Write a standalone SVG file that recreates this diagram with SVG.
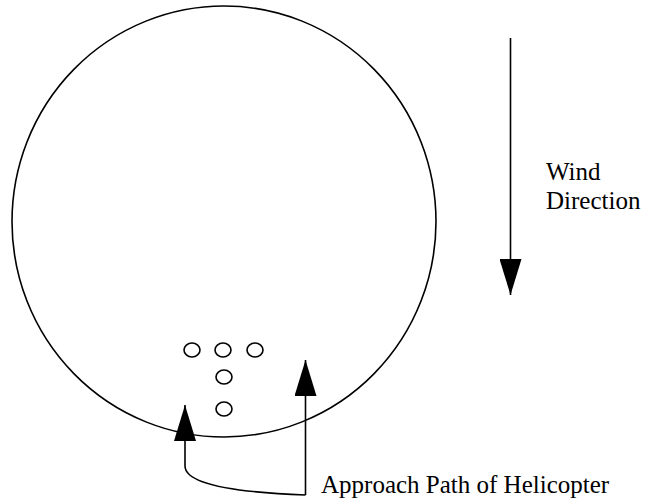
<svg xmlns="http://www.w3.org/2000/svg" width="648" height="504" viewBox="0 0 648 504">
<style>
.ln{fill:none;stroke:#000;stroke-width:1.6}
.sm{fill:none;stroke:#000;stroke-width:1.6}
.t{font-family:"Liberation Serif","Times New Roman",serif;font-size:25px;fill:#000}
</style>
<defs>
<marker id="ah" markerWidth="36" markerHeight="22" refX="36" refY="11" orient="auto" markerUnits="userSpaceOnUse" viewBox="0 0 36 22">
<path d="M0,0 L36,11 L0,22 Z" fill="#000"/>
</marker>
</defs>
<rect width="648" height="504" fill="#fff"/>
<g id="field"><ellipse cx="224" cy="221.5" rx="212" ry="215.5" class="ln"/></g>
<g id="markers">
<ellipse cx="192" cy="350" rx="8" ry="7" class="sm"/>
<ellipse cx="223" cy="350" rx="8" ry="7" class="sm"/>
<ellipse cx="255" cy="350" rx="8" ry="7" class="sm"/>
<ellipse cx="224" cy="377" rx="8" ry="7" class="sm"/>
<ellipse cx="224" cy="409" rx="8" ry="7" class="sm"/>
</g>
<g id="connectors">
<path d="M510.5,38 L510.5,295" class="ln" marker-end="url(#ah)"/>
<path d="M305.5,495 L305.5,360" class="ln" marker-end="url(#ah)"/>
<path d="M305.5,495 C225,492 185,482 185,466 L185,405" class="ln" marker-end="url(#ah)"/>
</g>
<g id="labels">
<text class="t" x="546" y="180">Wind</text>
<text class="t" x="546" y="209">Direction</text>
<text class="t" x="321" y="493">Approach Path of Helicopter</text>
</g>
</svg>
